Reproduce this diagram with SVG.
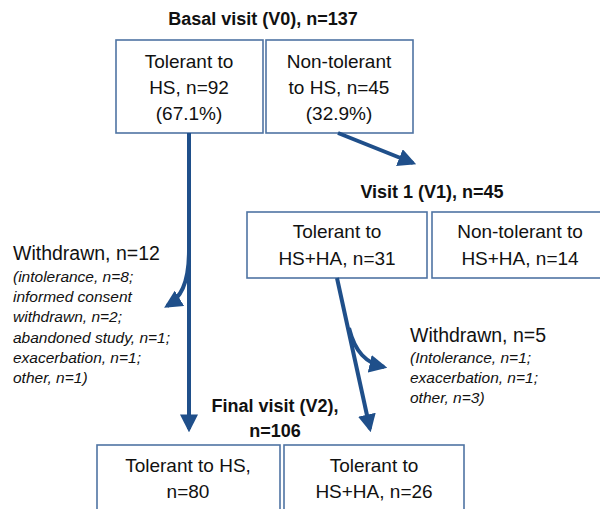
<svg xmlns="http://www.w3.org/2000/svg" width="600" height="509" viewBox="0 0 600 509">
<style>
.box{fill:#fff;stroke:#4f74a3;stroke-width:1.6}
.t{font-family:"Liberation Sans",Arial,sans-serif;font-size:19px;fill:#111;text-anchor:middle}
.h{font-family:"Liberation Sans",Arial,sans-serif;font-size:18px;font-weight:bold;fill:#111;text-anchor:middle}
.w{font-family:"Liberation Sans",Arial,sans-serif;font-size:19.5px;fill:#111}
.i{font-family:"Liberation Sans",Arial,sans-serif;font-size:15.5px;font-style:italic;fill:#111}
.c{fill:none;stroke:#1f4f8a;stroke-width:4}
</style>
<defs>
<marker id="ah" markerUnits="userSpaceOnUse" markerWidth="18" markerHeight="18" refX="13" refY="8" orient="auto" viewBox="0 0 16 16">
<path d="M0,0 L16,8 L0,16 Z" fill="#1f4f8a"/>
</marker>
</defs>
<rect width="600" height="509" fill="#fff"/>
<g id="title-v0"><text class="h" x="263" y="25">Basal visit (V0), n=137</text></g>
<g id="v0-tolerant">
<rect class="box" x="116" y="40" width="147" height="93"/>
<text class="t" x="189" y="68">Tolerant to</text>
<text class="t" x="189" y="94">HS, n=92</text>
<text class="t" x="189" y="120">(67.1%)</text>
</g>
<g id="v0-nontolerant">
<rect class="box" x="266" y="40" width="147" height="93"/>
<text class="t" x="339" y="68">Non-tolerant</text>
<text class="t" x="339" y="94">to HS, n=45</text>
<text class="t" x="339" y="120">(32.9%)</text>
</g>
<g id="title-v1"><text class="h" x="432" y="198">Visit 1 (V1), n=45</text></g>
<g id="v1-tolerant">
<rect class="box" x="247" y="212" width="180" height="66"/>
<text class="t" x="337" y="238">Tolerant to</text>
<text class="t" x="337" y="265">HS+HA, n=31</text>
</g>
<g id="v1-nontolerant">
<rect class="box" x="432" y="212" width="176" height="66"/>
<text class="t" x="520" y="238">Non-tolerant to</text>
<text class="t" x="520" y="265">HS+HA, n=14</text>
</g>
<g id="withdrawn-12">
<text class="w" x="13" y="260">Withdrawn, n=12</text>
<text class="i" x="13" y="282">(intolerance, n=8;</text>
<text class="i" x="13" y="302">informed consent</text>
<text class="i" x="13" y="322">withdrawn, n=2;</text>
<text class="i" x="13" y="343">abandoned study, n=1;</text>
<text class="i" x="13" y="363">exacerbation, n=1;</text>
<text class="i" x="13" y="383">other, n=1)</text>
</g>
<g id="withdrawn-5">
<text class="w" x="410" y="342">Withdrawn, n=5</text>
<text class="i" x="410" y="363">(Intolerance, n=1;</text>
<text class="i" x="410" y="383">exacerbation, n=1;</text>
<text class="i" x="410" y="403">other, n=3)</text>
</g>
<g id="title-v2">
<text class="h" x="275" y="412">Final visit (V2),</text>
<text class="h" x="275" y="437">n=106</text>
</g>
<g id="v2-hs">
<rect class="box" x="97" y="445" width="183" height="80"/>
<text class="t" x="188" y="472">Tolerant to HS,</text>
<text class="t" x="188" y="498">n=80</text>
</g>
<g id="v2-hsha">
<rect class="box" x="284" y="445" width="180" height="80"/>
<text class="t" x="374" y="472">Tolerant to</text>
<text class="t" x="374" y="498">HS+HA, n=26</text>
</g>
<g id="connectors">
<path class="c" d="M189,133 L189,429" marker-end="url(#ah)"/>
<path class="c" d="M189,250 C189,285 180,298 167,306" marker-end="url(#ah)"/>
<path class="c" d="M338,133 L413,163" marker-end="url(#ah)"/>
<path class="c" d="M337,278 L370,429" marker-end="url(#ah)"/>
<path class="c" d="M349,328 C355,352 366,363 384,367" marker-end="url(#ah)"/>
</g>
</svg>
